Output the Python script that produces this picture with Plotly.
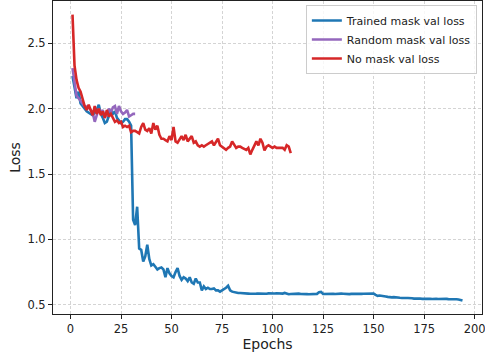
import plotly.graph_objects as go

trained_loss = [
    2.25, 2.15, 2.08, 2.13, 2.04, 2.02, 2.00, 1.98, 1.97, 1.96,
    1.95, 1.97, 1.99, 2.03, 1.96, 1.93, 1.89, 1.90, 1.94, 1.99,
    1.96, 1.98, 1.93, 1.91, 1.89, 1.90, 1.92, 1.92, 1.90, 1.87,
    1.15, 1.11, 1.25, 0.93, 0.92, 0.83, 0.87, 0.96, 0.85, 0.80,
    0.81, 0.79, 0.77, 0.78, 0.785, 0.77, 0.71, 0.78, 0.74, 0.72,
    0.71, 0.75, 0.78, 0.72, 0.69, 0.71, 0.70, 0.68, 0.71, 0.67,
    0.66, 0.70, 0.67, 0.67, 0.61, 0.64, 0.62, 0.63, 0.62, 0.62,
    0.625, 0.61, 0.61, 0.60, 0.61, 0.615, 0.63, 0.645, 0.61, 0.60,
    0.595, 0.59, 0.59, 0.59, 0.59, 0.587, 0.59, 0.585, 0.584, 0.586,
    0.588, 0.585, 0.586, 0.585, 0.587, 0.585, 0.584, 0.587, 0.585, 0.583,
    0.586, 0.588, 0.587, 0.586, 0.585, 0.59, 0.584, 0.58, 0.582, 0.584,
    0.581, 0.583, 0.585, 0.582, 0.58, 0.582, 0.581, 0.58, 0.582, 0.584,
    0.586, 0.583, 0.595, 0.598, 0.582, 0.583, 0.585, 0.583, 0.584, 0.583,
    0.582, 0.584, 0.583, 0.585, 0.584, 0.582, 0.58, 0.581, 0.583, 0.582,
    0.584, 0.583, 0.582, 0.583, 0.584, 0.585, 0.586, 0.587, 0.588, 0.585,
    0.575, 0.568, 0.57, 0.566, 0.567, 0.563, 0.56, 0.557, 0.556, 0.558,
    0.555, 0.556, 0.553, 0.552, 0.55, 0.551, 0.552, 0.548, 0.549, 0.547,
    0.548, 0.546, 0.547, 0.545, 0.546, 0.545, 0.547, 0.545, 0.544, 0.546,
    0.545, 0.544, 0.545, 0.543, 0.544, 0.545, 0.543, 0.544, 0.542, 0.541,
    0.542, 0.54, 0.538, 0.532,
]

random_loss = [
    2.31, 2.22, 2.10, 2.08, 2.055, 2.04, 2.02, 2.015, 2.01, 1.99,
    1.97, 1.90, 1.95, 2.00, 1.97, 1.99, 1.93, 1.97, 2.00, 1.97,
    2.01, 2.02, 1.96, 2.02, 1.98, 1.96, 1.97, 1.99, 1.94, 1.95,
    1.96, 1.96,
]

nomask_loss = [
    2.72, 2.33, 2.22, 2.16, 2.13, 2.07, 2.02, 1.99, 2.03, 1.99,
    1.95, 2.02, 1.96, 2.00, 1.95, 1.98, 1.93, 1.99, 1.94, 1.96,
    1.93, 1.90, 1.91, 1.89, 1.90, 1.86, 1.87, 1.86, 1.87, 1.82,
    1.83, 1.83, 1.82, 1.81, 1.86, 1.89, 1.84, 1.83, 1.85, 1.81,
    1.89, 1.84, 1.87, 1.80, 1.77, 1.77, 1.76, 1.75, 1.79, 1.76,
    1.86, 1.75, 1.74, 1.77, 1.79, 1.76, 1.80, 1.75, 1.77, 1.79,
    1.74, 1.75, 1.72, 1.71, 1.72, 1.71, 1.72, 1.73, 1.74, 1.75,
    1.72, 1.75, 1.77, 1.72, 1.71, 1.70, 1.685, 1.70, 1.71, 1.75,
    1.72, 1.70, 1.71, 1.71, 1.70, 1.69, 1.685, 1.70, 1.65, 1.685,
    1.72, 1.75, 1.72, 1.77, 1.74, 1.68, 1.71, 1.72, 1.71, 1.70,
    1.71, 1.70, 1.70, 1.70, 1.70, 1.685, 1.72, 1.71, 1.66,
]

series_names = ["Trained mask val loss", "Random mask val loss", "No mask val loss"]
x_ticks = [0, 25, 50, 75, 100, 125, 150, 175, 200]
y_ticks = [0.5, 1.0, 1.5, 2.0, 2.5]

colors = ["#1f77b4", "#9467bd", "#d62728"]
series = [trained_loss, random_loss, nomask_loss]

fig = go.Figure()
for name, vals, col in zip(series_names, series, colors):
    fig.add_trace(go.Scatter(
        x=list(range(1, len(vals) + 1)), y=vals, mode="lines", name=name,
        line=dict(color=col, width=2.6),
    ))

axis_common = dict(
    showline=True, linecolor="#222", linewidth=1, mirror=True,
    ticks="outside", ticklen=4, tickcolor="#222", tickwidth=1,
    showgrid=True, gridcolor="rgba(176,176,176,0.55)", griddash="3px,2px", gridwidth=1,
    zeroline=False, automargin=False, ticklabeloverflow="allow",
    tickfont=dict(family="DejaVu Sans", size=11.5, color="#222"),
)

fig.update_layout(
    width=485, height=360,
    margin=dict(l=53, r=3, t=1, b=46),
    plot_bgcolor="white", paper_bgcolor="white",
    font=dict(family="DejaVu Sans", color="#222"),
    xaxis=dict(range=[-8.65, 203.65], tickvals=x_ticks,
               title=dict(text="Epochs", font=dict(size=14), standoff=4), **axis_common),
    yaxis=dict(range=[0.429, 2.824], tickvals=y_ticks, tickformat=".1f",
               title=dict(text="Loss", font=dict(size=14), standoff=3), **axis_common),
    legend=dict(x=0.988, y=0.987, xanchor="right", yanchor="top",
                bgcolor="rgba(255,255,255,0.8)", bordercolor="#cccccc", borderwidth=1,
                font=dict(family="DejaVu Sans", size=11, color="#222"),
                tracegroupgap=0, itemwidth=30),
    showlegend=True,
)

fig.write_html("out.html", config={"displayModeBar": False},
               post_script="document.body.style.margin='0';")
